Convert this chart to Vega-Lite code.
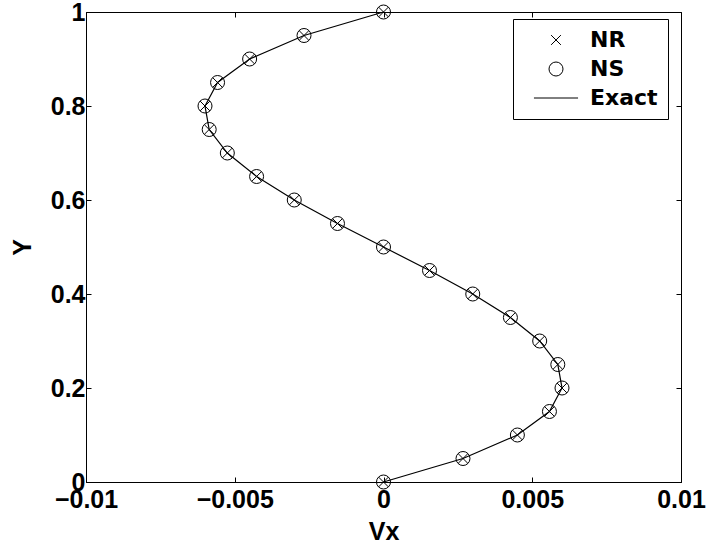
{
  "$schema": "https://vega.github.io/schema/vega-lite/v6.json",
  "width": 595,
  "height": 470,
  "autosize": {"type": "none"},
  "padding": {"left": 86, "top": 12, "right": 25, "bottom": 62},
  "background": "white",
  "data": {
    "values": [
      {"Y": 0.00, "Vx": 0},
      {"Y": 0.05, "Vx": 0.002672},
      {"Y": 0.10, "Vx": 0.0045},
      {"Y": 0.15, "Vx": 0.005578},
      {"Y": 0.20, "Vx": 0.006},
      {"Y": 0.25, "Vx": 0.005859},
      {"Y": 0.30, "Vx": 0.00525},
      {"Y": 0.35, "Vx": 0.004266},
      {"Y": 0.40, "Vx": 0.003},
      {"Y": 0.45, "Vx": 0.001547},
      {"Y": 0.50, "Vx": 0},
      {"Y": 0.55, "Vx": -0.001547},
      {"Y": 0.60, "Vx": -0.003},
      {"Y": 0.65, "Vx": -0.004266},
      {"Y": 0.70, "Vx": -0.00525},
      {"Y": 0.75, "Vx": -0.005859},
      {"Y": 0.80, "Vx": -0.006},
      {"Y": 0.85, "Vx": -0.005578},
      {"Y": 0.90, "Vx": -0.0045},
      {"Y": 0.95, "Vx": -0.002672},
      {"Y": 1.00, "Vx": 0}
    ]
  },
  "resolve": {"axis": {"x": "independent", "y": "independent"}},
  "layer": [
    {
      "mark": {"type": "line", "color": "black", "strokeWidth": 1.2},
      "encoding": {
        "x": {"field": "Vx", "type": "quantitative", "scale": {"domain": [-0.01, 0.01], "nice": false, "zero": false},
              "axis": {"orient": "bottom", "values": [-0.01, -0.005, 0, 0.005, 0.01], "format": "~g", "title": "Vx", "labelPadding": 10, "titlePadding": 7}},
        "y": {"field": "Y", "type": "quantitative", "scale": {"domain": [0, 1], "nice": false, "zero": false},
              "axis": {"orient": "left", "values": [0, 0.2, 0.4, 0.6, 0.8, 1], "format": "~g", "title": "Y", "labelPadding": 6, "titlePadding": 15}},
        "order": {"field": "Y", "type": "quantitative"}
      }
    },
    {
      "mark": {"type": "point", "filled": false, "stroke": "black", "strokeWidth": 1, "size": 196, "opacity": 1},
      "encoding": {
        "x": {"field": "Vx", "type": "quantitative", "axis": null},
        "y": {"field": "Y", "type": "quantitative", "axis": null},
        "shape": {"datum": "NR", "type": "nominal",
                  "scale": {"domain": ["NR", "NS", "Exact"], "range": ["M-0.7,-0.7L0.7,0.7M-0.7,0.7L0.7,-0.7", "circle", "M-3.15,0L3.15,0"]},
                  "legend": {"orient": "none", "legendX": 427, "legendY": 7, "title": null, "padding": 10, "rowPadding": 7,
                             "symbolSize": 196, "symbolStrokeWidth": 1, "symbolStrokeColor": "black", "symbolFillColor": "transparent", "symbolOpacity": 1,
                             "symbolOffset": 22, "labelOffset": 23, "labelFont": "DejaVu Sans", "labelFontWeight": "bold", "labelFontSize": 22,
                             "labelColor": "black", "strokeColor": "black", "fillColor": "white", "cornerRadius": 0}}
      }
    },
    {
      "mark": {"type": "point", "filled": false, "stroke": "black", "strokeWidth": 1, "size": 196, "opacity": 1},
      "encoding": {
        "x": {"field": "Vx", "type": "quantitative", "axis": null},
        "y": {"field": "Y", "type": "quantitative", "axis": null},
        "shape": {"datum": "NS", "type": "nominal"}
      }
    },
    {
      "mark": {"type": "point", "opacity": 0},
      "encoding": {
        "x": {"field": "Vx", "type": "quantitative",
              "axis": {"orient": "top", "values": [-0.01, -0.005, 0, 0.005, 0.01], "labels": false, "title": null, "domain": false}},
        "y": {"field": "Y", "type": "quantitative",
              "axis": {"orient": "right", "values": [0, 0.2, 0.4, 0.6, 0.8, 1], "labels": false, "title": null, "domain": false}}
      }
    }
  ],
  "config": {
    "view": {"stroke": "black", "strokeWidth": 1},
    "axis": {
      "labelFont": "Liberation Sans", "labelFontWeight": "bold", "labelFontSize": 25, "labelColor": "black",
      "titleFont": "Liberation Sans", "titleFontWeight": "bold", "titleFontSize": 25, "titleColor": "black",
      "domainColor": "black", "domainWidth": 1, "tickColor": "black", "tickWidth": 1, "tickSize": -5,
      "grid": false, "labelFlush": false, "labelOverlap": false
    }
  }
}
